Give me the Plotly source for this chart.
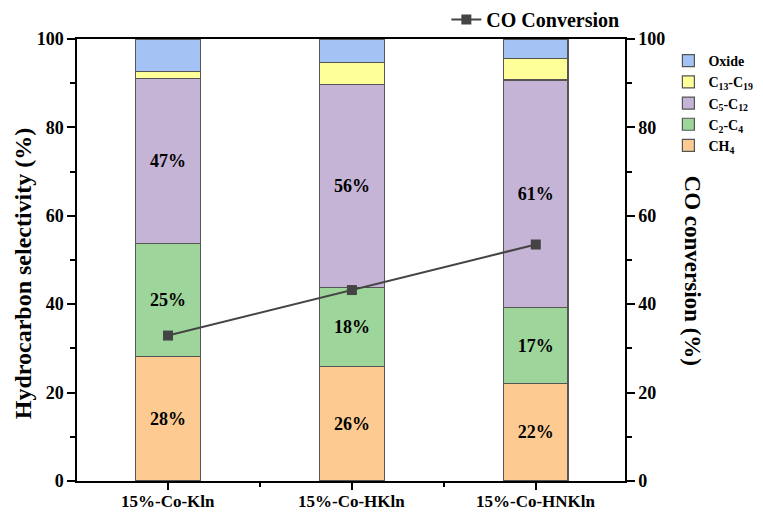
import plotly.graph_objects as go

categories = ["15%-Co-Kln", "15%-Co-HKln", "15%-Co-HNKln"]
ch4 = [28.2, 25.9, 22.1]
c2_c4 = [25.5, 17.9, 17.1]
c5_c12 = [37.4, 45.9, 51.5]
c13_c19 = [1.6, 4.9, 4.8]
oxide = [7.3, 5.4, 4.5]
co_conversion = [32.9, 43.2, 53.5]
ch4_labels = ["28%", "26%", "22%"]
c2_c4_labels = ["25%", "18%", "17%"]
c5_c12_labels = ["47%", "56%", "61%"]
y_ticks = [0, 20, 40, 60, 80, 100]

FONT = "Liberation Serif, Times New Roman, serif"
x = [0, 1, 2]

fig = go.Figure()
series = [
    ("<b>CH<sub>4</sub></b>", ch4, "#fdcb92", ch4_labels),
    ("<b>C<sub>2</sub>-C<sub>4</sub></b>", c2_c4, "#9ed59b", c2_c4_labels),
    ("<b>C<sub>5</sub>-C<sub>12</sub></b>", c5_c12, "#c5b4d6", c5_c12_labels),
    ("<b>C<sub>13</sub>-C<sub>19</sub></b>", c13_c19, "#ffff99", None),
    ("<b>Oxide</b>", oxide, "#a4c2f4", None),
]
for name, vals, col, labels in series:
    fig.add_trace(go.Bar(
        x=x, y=vals, name=name, width=0.35,
        marker=dict(color=col, line=dict(color="#555555", width=1.2)),
        text=[f"<b>{t}</b>" for t in labels] if labels else None,
        textposition="inside" if labels else "none",
        insidetextanchor="middle",
        textangle=0,
        textfont=dict(family=FONT, size=18, color="black"),
        legend="legend",
    ))

fig.add_trace(go.Scatter(
    x=x, y=co_conversion, name="<b>CO Conversion</b>", mode="lines+markers",
    line=dict(color="#444444", width=2),
    marker=dict(symbol="square", size=10, color="#444444"),
    yaxis="y2", legend="legend2",
))

tick_text = [f"<b>{v}</b>" for v in y_ticks]
minor_y = dict(tickvals=[10, 30, 50, 70, 90], ticks="outside", ticklen=5, tickwidth=1.5, tickcolor="black")

# category labels drawn as annotations anchored to the category positions
cat_annotations = [
    dict(text=f"<b>{c}</b>", x=xi, y=0, xref="x", yref="paper",
         xanchor="center", yanchor="middle", yshift=-20, showarrow=False,
         font=dict(family=FONT, size=17))
    for xi, c in zip(x, categories)
]

fig.update_layout(
    width=763, height=512,
    margin=dict(l=77, r=138, t=36, b=31),
    plot_bgcolor="white", paper_bgcolor="white",
    barmode="stack",
    font=dict(family=FONT, color="black"),
    showlegend=True,
    xaxis=dict(
        range=[-0.495, 2.485], tickmode="array", tickvals=x,
        showticklabels=False,
        showline=True, linecolor="black", linewidth=1.5, mirror=True,
        ticks="outside", ticklen=7, tickwidth=1.5, tickcolor="black",
        minor=dict(tickvals=[0.5, 1.5], ticks="outside", ticklen=4, tickwidth=1.5, tickcolor="black"),
        showgrid=False, zeroline=False, automargin=False,
    ),
    yaxis=dict(
        range=[0, 100], tickmode="array", tickvals=y_ticks, ticktext=tick_text,
        showline=True, linecolor="black", linewidth=1.5,
        ticks="outside", ticklen=8, tickwidth=1.5, tickcolor="black",
        minor=minor_y,
        tickfont=dict(family=FONT, size=18),
        showgrid=False, zeroline=False, automargin=False,
    ),
    yaxis2=dict(
        range=[0, 100], tickmode="array", tickvals=y_ticks, ticktext=tick_text,
        overlaying="y", side="right",
        showline=True, linecolor="black", linewidth=1.5,
        ticks="outside", ticklen=8, tickwidth=1.5, tickcolor="black",
        minor=minor_y,
        tickfont=dict(family=FONT, size=18),
        showgrid=False, zeroline=False, automargin=False,
    ),
    legend=dict(
        xref="container", yref="container",
        x=0.876, y=0.912, xanchor="left", yanchor="top",
        traceorder="reversed", font=dict(family=FONT, size=14),
        bgcolor="rgba(0,0,0,0)", tracegroupgap=0, itemwidth=30,
    ),
    legend2=dict(
        xref="container", yref="container",
        x=0.585, y=0.962, xanchor="left", yanchor="middle", orientation="h",
        font=dict(family=FONT, size=20), bgcolor="rgba(0,0,0,0)",
    ),
    annotations=cat_annotations + [
        dict(
            text="<b>Hydrocarbon selectivity (%)</b>", textangle=-90,
            x=(23 - 77) / 548, y=0.47,
            xref="paper", yref="paper", xanchor="center", yanchor="middle",
            showarrow=False, font=dict(family=FONT, size=24),
        ),
        dict(
            text="<b>CO conversion (%)</b>", textangle=90,
            x=(692 - 77) / 548, y=0.476,
            xref="paper", yref="paper", xanchor="center", yanchor="middle",
            showarrow=False, font=dict(family=FONT, size=23),
        ),
    ],
)

fig.write_html("out.html", config={"displayModeBar": False},
               post_script="document.body.style.margin='0';")
